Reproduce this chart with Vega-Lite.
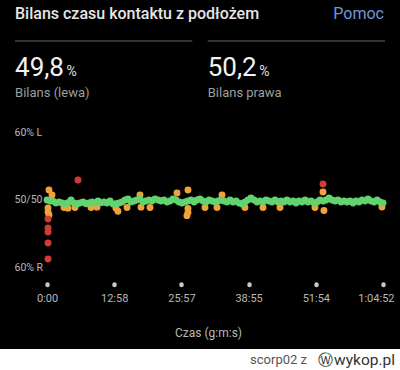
{
  "$schema": "https://vega.github.io/schema/vega-lite/v6.json",
  "background": "#000000",
  "padding": 0,
  "bounds": "flush",
  "spacing": 0,
  "config": {"view": {"stroke": null}, "font": "Roboto"},
  "vconcat": [
    {
      "width": 400,
      "height": 40,
      "data": {"values": [
        {"item": "title", "text": "Bilans czasu kontaktu z podłożem"},
        {"item": "help", "text": "Pomoc"}
      ]},
      "layer": [
        {
          "transform": [{"filter": "datum.item === 'title'"}],
          "mark": {"type": "text", "align": "left", "baseline": "alphabetic", "dy": -1.3, "fontSize": 16, "fontWeight": 500, "color": "#e6e6e6"},
          "encoding": {
            "x": {"field": "item", "type": "nominal", "scale": {"type": "band", "domain": ["title", "help"], "paddingInner": 0, "paddingOuter": 0.0811}, "bandPosition": 0, "axis": null},
            "text": {"field": "text"}
          }
        },
        {
          "transform": [{"filter": "datum.item === 'help'"}],
          "mark": {"type": "text", "align": "right", "baseline": "alphabetic", "dy": -1.3, "dx": -1, "fontSize": 16, "color": "#7097dc"},
          "encoding": {
            "x": {"field": "item", "type": "nominal", "scale": {"type": "band", "domain": ["title", "help"], "paddingInner": 0, "paddingOuter": 0.0811}, "bandPosition": 1, "axis": null},
            "text": {"field": "text"}
          }
        }
      ]
    },
    {
      "width": 400,
      "height": 2,
      "data": {"values": [{"side": "lewa"}, {"side": "prawa"}]},
      "mark": {"type": "bar", "color": "#333333"},
      "encoding": {
        "x": {"field": "side", "type": "nominal", "scale": {"type": "band", "paddingInner": 0.08, "paddingOuter": 0.078}, "axis": null}
      }
    },
    {
      "width": 400,
      "height": 90,
      "data": {"values": [
        {"side": "lewa", "value": "49,8", "label": "Bilans (lewa)"},
        {"side": "prawa", "value": "50,2", "label": "Bilans prawa"}
      ]},
      "encoding": {
        "x": {"field": "side", "type": "nominal", "scale": {"type": "band", "paddingInner": 0.08, "paddingOuter": 0.078}, "bandPosition": 0, "axis": null}
      },
      "layer": [
        {"mark": {"type": "text", "align": "left", "baseline": "alphabetic", "dy": -11.5, "fontSize": 26, "color": "#f2f2f2"}, "encoding": {"text": {"field": "value"}}},
        {"mark": {"type": "text", "align": "left", "baseline": "alphabetic", "dx": 51.5, "dy": -11.5, "fontSize": 14, "color": "#e0e0e0"}, "encoding": {"text": {"value": "%"}}},
        {"mark": {"type": "text", "align": "left", "baseline": "alphabetic", "dy": 9.7, "fontSize": 13, "color": "#9e9e9e"}, "encoding": {"text": {"field": "label"}}}
      ]
    },
    {
      "width": 400,
      "height": 217,
      "data": {"values": [
        {"time": 23, "balance": 51.47}, {"time": 58, "balance": 50.74}, {"time": 12, "balance": 48.82}, {"time": 12, "balance": 48.24}, {"time": 23, "balance": 47.79},
        {"time": 12, "balance": 47.21}, {"time": 12, "balance": 45.88}, {"time": 12, "balance": 45.29}, {"time": 12, "balance": 43.68}, {"time": 12, "balance": 41.32},
        {"time": 359, "balance": 52.94},
        {"time": 197, "balance": 48.9}, {"time": 243, "balance": 48.8}, {"time": 324, "balance": 48.9}, {"time": 510, "balance": 48.9}, {"time": 579, "balance": 48.95},
        {"time": 799, "balance": 48.8}, {"time": 822, "balance": 48.35}, {"time": 927, "balance": 48.9}, {"time": 1077, "balance": 50.74}, {"time": 1089, "balance": 48.95},
        {"time": 1193, "balance": 48.9}, {"time": 1506, "balance": 51.03}, {"time": 1633, "balance": 51.47}, {"time": 1633, "balance": 48.75}, {"time": 1633, "balance": 48.15},
        {"time": 1621, "balance": 47.7}, {"time": 1830, "balance": 48.9}, {"time": 1969, "balance": 48.9}, {"time": 2027, "balance": 50.74}, {"time": 2293, "balance": 48.9},
        {"time": 2502, "balance": 48.9}, {"time": 2699, "balance": 48.9}, {"time": 3104, "balance": 48.9}, {"time": 3197, "balance": 51.18}, {"time": 3197, "balance": 52.35},
        {"time": 3208, "balance": 48.45}, {"time": 3880, "balance": 48.98},
        {"time": 0, "balance": 50.0}, {"time": 35, "balance": 49.85}, {"time": 70, "balance": 49.82}, {"time": 104, "balance": 49.56}, {"time": 139, "balance": 49.71},
        {"time": 174, "balance": 49.56}, {"time": 209, "balance": 49.41}, {"time": 243, "balance": 49.6}, {"time": 278, "balance": 50.0}, {"time": 313, "balance": 49.56},
        {"time": 348, "balance": 49.41}, {"time": 382, "balance": 49.56}, {"time": 417, "balance": 49.71}, {"time": 452, "balance": 49.44}, {"time": 486, "balance": 49.56},
        {"time": 521, "balance": 49.71}, {"time": 556, "balance": 49.56}, {"time": 591, "balance": 49.85}, {"time": 626, "balance": 49.58}, {"time": 660, "balance": 49.71},
        {"time": 695, "balance": 49.56}, {"time": 730, "balance": 49.85}, {"time": 765, "balance": 49.41}, {"time": 799, "balance": 49.45}, {"time": 834, "balance": 49.56},
        {"time": 869, "balance": 49.71}, {"time": 904, "balance": 50.0}, {"time": 938, "balance": 50.15}, {"time": 973, "balance": 49.71}, {"time": 1008, "balance": 49.85},
        {"time": 1043, "balance": 50.0}, {"time": 1077, "balance": 50.15}, {"time": 1112, "balance": 49.71}, {"time": 1147, "balance": 49.85}, {"time": 1182, "balance": 50.0},
        {"time": 1216, "balance": 49.85}, {"time": 1251, "balance": 50.15}, {"time": 1286, "balance": 50.0}, {"time": 1321, "balance": 49.85}, {"time": 1355, "balance": 50.0},
        {"time": 1390, "balance": 49.71}, {"time": 1425, "balance": 49.85}, {"time": 1460, "balance": 50.15}, {"time": 1494, "balance": 50.0}, {"time": 1529, "balance": 49.71},
        {"time": 1564, "balance": 49.56}, {"time": 1599, "balance": 49.71}, {"time": 1633, "balance": 49.85}, {"time": 1668, "balance": 50.0}, {"time": 1703, "balance": 49.71},
        {"time": 1738, "balance": 50.0}, {"time": 1772, "balance": 50.15}, {"time": 1807, "balance": 49.85}, {"time": 1842, "balance": 49.71}, {"time": 1877, "balance": 50.0},
        {"time": 1911, "balance": 49.85}, {"time": 1946, "balance": 49.71}, {"time": 1981, "balance": 49.85}, {"time": 2016, "balance": 50.0}, {"time": 2050, "balance": 49.85},
        {"time": 2085, "balance": 49.71}, {"time": 2120, "balance": 50.0}, {"time": 2155, "balance": 49.71}, {"time": 2189, "balance": 49.85}, {"time": 2224, "balance": 49.56},
        {"time": 2259, "balance": 49.41}, {"time": 2294, "balance": 49.71}, {"time": 2328, "balance": 50.0}, {"time": 2363, "balance": 50.29}, {"time": 2398, "balance": 50.0},
        {"time": 2433, "balance": 49.71}, {"time": 2467, "balance": 49.85}, {"time": 2502, "balance": 49.71}, {"time": 2537, "balance": 50.0}, {"time": 2572, "balance": 49.85},
        {"time": 2606, "balance": 49.71}, {"time": 2641, "balance": 50.0}, {"time": 2676, "balance": 49.71}, {"time": 2711, "balance": 49.85}, {"time": 2745, "balance": 49.71},
        {"time": 2780, "balance": 50.0}, {"time": 2815, "balance": 49.71}, {"time": 2850, "balance": 49.85}, {"time": 2884, "balance": 49.56}, {"time": 2919, "balance": 49.85},
        {"time": 2954, "balance": 49.71}, {"time": 2989, "balance": 50.0}, {"time": 3023, "balance": 49.71}, {"time": 3058, "balance": 49.85}, {"time": 3093, "balance": 49.56},
        {"time": 3128, "balance": 49.71}, {"time": 3162, "balance": 50.0}, {"time": 3197, "balance": 49.85}, {"time": 3232, "balance": 50.0}, {"time": 3267, "balance": 50.29},
        {"time": 3301, "balance": 50.0}, {"time": 3336, "balance": 49.85}, {"time": 3371, "balance": 50.0}, {"time": 3406, "balance": 49.71}, {"time": 3440, "balance": 49.85},
        {"time": 3475, "balance": 49.71}, {"time": 3510, "balance": 49.85}, {"time": 3545, "balance": 49.56}, {"time": 3579, "balance": 49.85}, {"time": 3614, "balance": 49.71},
        {"time": 3649, "balance": 50.0}, {"time": 3684, "balance": 49.85}, {"time": 3718, "balance": 50.15}, {"time": 3753, "balance": 49.85}, {"time": 3788, "balance": 49.71},
        {"time": 3823, "balance": 50.0}, {"time": 3857, "balance": 49.71}, {"time": 3892, "balance": 49.56}
      ]},
      "mark": {"type": "circle", "size": 48, "opacity": 1},
      "encoding": {
        "x": {
          "field": "time", "type": "quantitative",
          "scale": {"domain": [-544.4, 4088.9], "nice": false, "zero": false},
          "axis": {
            "orient": "bottom", "offset": -65,
            "values": [0, 778, 1557, 2335, 3114, 3892],
            "labelExpr": "datum.value >= 3600 ? floor(datum.value / 3600) + ':' + pad('' + floor((datum.value % 3600) / 60), 2, '0', 'left') + ':' + pad('' + (datum.value % 60), 2, '0', 'left') : floor(datum.value / 60) + ':' + pad('' + (datum.value % 60), 2, '0', 'left')",
            "domain": false, "grid": false,
            "ticks": true, "tickSize": 0.5, "tickWidth": 4.5, "tickCap": "round", "tickColor": "#c8c8c8",
            "labelPadding": 8, "labelColor": "#b8b8b8", "labelFontSize": 11,
            "labelFlush": 20, "labelFlushOffset": 11, "labelOverlap": false,
            "title": "Czas (g:m:s)", "titleFontSize": 12, "titleColor": "#b8b8b8", "titleFontWeight": "normal",
            "titlePadding": 24, "titleX": 208
          }
        },
        "y": {
          "field": "balance", "type": "quantitative",
          "scale": {"domain": [28.088, 60], "nice": false, "zero": false},
          "axis": {
            "orient": "left", "values": [40, 50, 60],
            "labelExpr": "datum.value == 60 ? '60% L' : datum.value == 50 ? '50/50' : '60% R'",
            "domain": false, "grid": false, "ticks": false, "tickSize": 0,
            "labelAlign": "left", "labelPadding": -14, "labelBaseline": "middle",
            "labelColor": "#b8b8b8", "labelFontSize": 10.5, "labelFlush": false, "title": null
          }
        },
        "color": {
          "field": "balance", "type": "quantitative",
          "scale": {"type": "threshold", "domain": [47.5, 49, 50.6, 52.3], "range": ["#d33a33", "#f0a23a", "#62d36e", "#f0a23a", "#d33a33"]},
          "legend": null
        }
      }
    },
    {
      "width": 400,
      "height": 21,
      "view": {"fill": "#ffffff", "stroke": null},
      "data": {"values": [{"part": "author"}]},
      "layer": [
        {"mark": {"type": "text", "align": "right", "baseline": "middle", "dx": 107, "fontSize": 13, "color": "#555555"}, "encoding": {"text": {"value": "scorp02 z"}}},
        {"mark": {"type": "text", "align": "center", "baseline": "middle", "dx": 125, "fontSize": 15, "color": "#333333"}, "encoding": {"text": {"value": "Ⓦ"}}},
        {"mark": {"type": "text", "align": "right", "baseline": "middle", "dx": 195, "fontSize": 15.5, "color": "#333333"}, "encoding": {"text": {"value": "wykop.pl"}}}
      ]
    }
  ]
}
